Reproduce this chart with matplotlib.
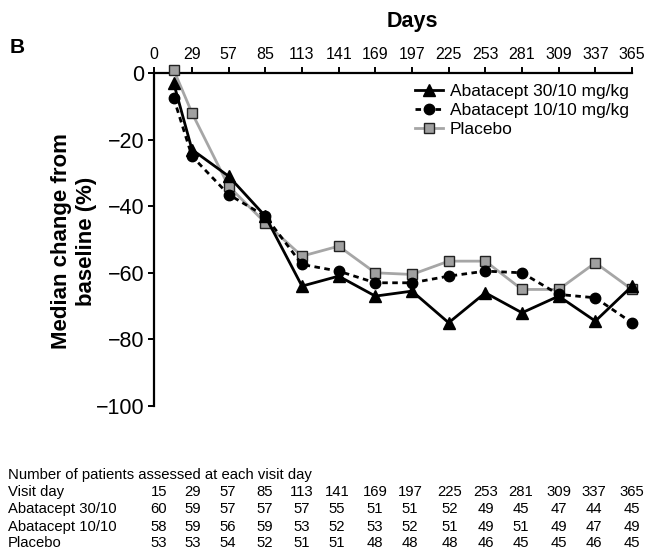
import numpy as np
import matplotlib
matplotlib.use('Agg')
import matplotlib.pyplot as plt
from matplotlib.lines import Line2D

plt.rcParams['font.family'] = ['Liberation Sans', 'DejaVu Sans']

# visit days and median change from baseline (%)
days = [15, 29, 57, 85, 113, 141, 169, 197, 225, 253, 281, 309, 337, 365]
aba30 = [-3, -23, -31, -43, -64, -61, -67, -65.5, -75, -66, -72, -67, -74.5, -64]
aba10 = [-7.5, -25, -36.5, -43, -57.5, -59.5, -63, -63, -61, -59.5, -60, -66.5, -67.5, -75]
placebo = [1, -12, -34, -45, -55, -52, -60, -60.5, -56.5, -56.5, -65, -65, -57, -65]

xticks = [0, 29, 57, 85, 113, 141, 169, 197, 225, 253, 281, 309, 337, 365]
yticks = [0, -20, -40, -60, -80, -100]

# numbers of patients assessed at each visit
n_aba30 = [60, 59, 57, 57, 57, 55, 51, 51, 52, 49, 45, 47, 44, 45]
n_aba10 = [58, 59, 56, 59, 53, 52, 53, 52, 51, 49, 51, 49, 47, 49]
n_placebo = [53, 53, 54, 52, 51, 51, 48, 48, 48, 46, 45, 45, 46, 45]
row_labels = ['Visit day', 'Abatacept 30/10', 'Abatacept 10/10', 'Placebo']
legend_labels = ['Abatacept 30/10 mg/kg', 'Abatacept 10/10 mg/kg', 'Placebo']

W, H = 648., 554.
fig = plt.figure(figsize=(W/100, H/100), dpi=100)
ax = fig.add_axes([154/W, 1-406/H, (632-154)/W, (406-73)/H])

# placebo first so the active arms sit on top of it
l_pl, = ax.plot(days, placebo, color='#a6a6a6', lw=2, marker='s', ms=7.5,
		mfc='#a0a0a0', mec='#222222', mew=1, clip_on=False, zorder=3)
l_30, = ax.plot(days, aba30, color='black', lw=2, marker='^', ms=8,
		clip_on=False, zorder=4)
l_10, = ax.plot(days, aba10, color='black', lw=2, ls=(0, (2, 1.6)), marker='o', ms=7.5,
		clip_on=False, zorder=5)

ax.set_xlim(0, 365)
ax.set_ylim(-100, 0)
ax.xaxis.tick_top()
ax.set_xticks(xticks)
ax.set_yticks(yticks)
ax.set_yticklabels(['0'] + ['\u2212%d' % abs(v) for v in yticks[1:]])
ax.tick_params(axis='x', labelsize=11.5, length=4, width=1.4, pad=4)
ax.tick_params(axis='y', labelsize=15.5, length=4, width=1.4, pad=3)
for s in ['bottom', 'right']:
	ax.spines[s].set_visible(False)
for s in ['top', 'left']:
	ax.spines[s].set_linewidth(1.6)

leg = ax.legend([l_30, l_10, l_pl], legend_labels, loc='upper left',
		bbox_to_anchor=(415/W, 1-84/H), bbox_transform=fig.transFigure,
		frameon=False, fontsize=12.5, borderpad=0, labelspacing=0.22,
		handlelength=1.6, handletextpad=0.4, borderaxespad=0)

fig.text(10/W, 1-53/H, 'B', fontsize=15, fontweight='bold', va='baseline')
fig.text(412/W, 1-27/H, 'Days', fontsize=15.5, fontweight='bold', ha='center', va='baseline')
fig.text(74/W, 1-241/H, 'Median change from\nbaseline (%)', fontsize=16, fontweight='bold',
		rotation=90, ha='center', va='center', multialignment='center')

# patient numbers table under the plot
col_x = [159, 193, 228, 265, 302, 337, 375, 410, 450, 486, 521, 559, 594, 632]
row_y = [492, 509, 527, 543]
tfs = 10.7
fig.text(8/W, 1-475/H, 'Number of patients assessed at each visit day', fontsize=tfs, va='center')
rows = [days, n_aba30, n_aba10, n_placebo]
for lab, vals, y in zip(row_labels, rows, row_y):
	fig.text(8/W, 1-y/H, lab, fontsize=tfs, va='center')
	for x, v in zip(col_x, vals):
		fig.text(x/W, 1-y/H, str(v), fontsize=tfs, va='center', ha='center')

fig.savefig('out.png', dpi=100)
